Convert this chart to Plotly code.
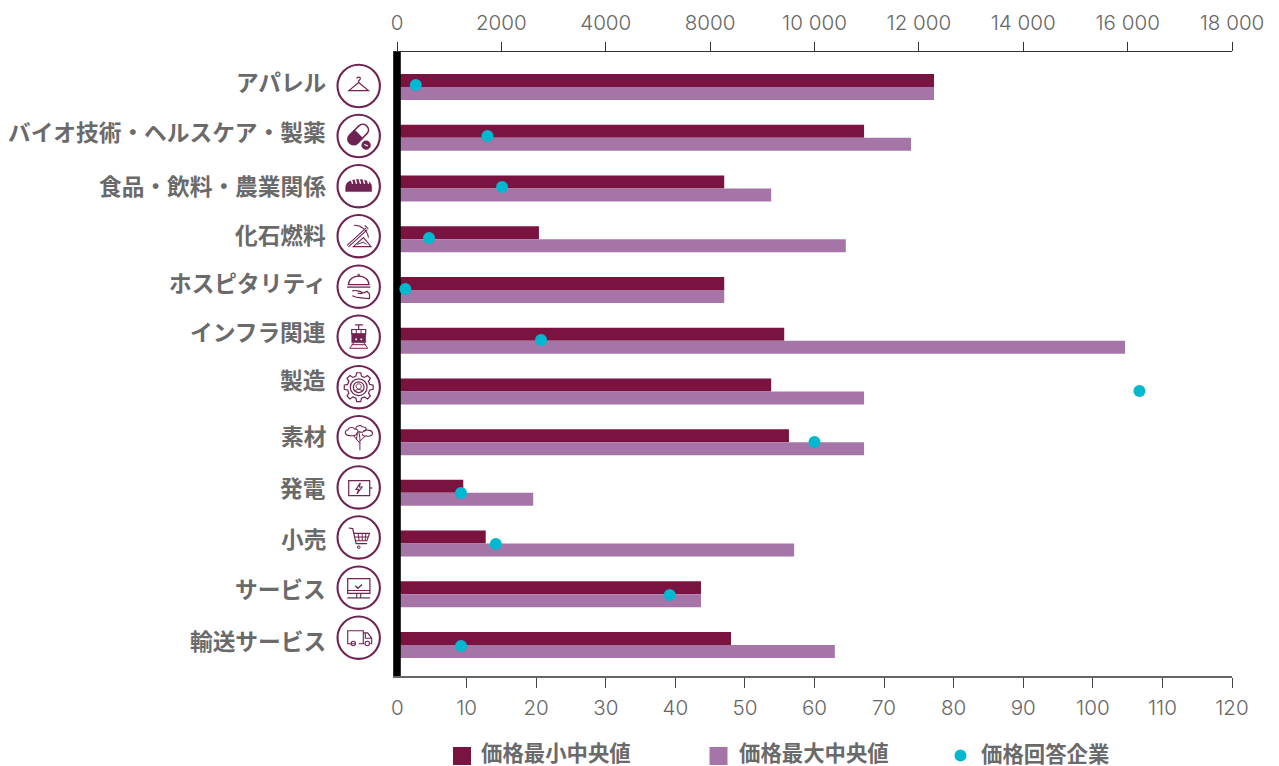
import math
import re
import plotly.graph_objects as go

# ---- data ----
categories = ["アパレル", "バイオ技術・ヘルスケア・製薬", "食品・飲料・農業関係", "化石燃料",
              "ホスピタリティ", "インフラ関連", "製造", "素材", "発電", "小売", "サービス", "輸送サービス"]
price_min = [10290, 8950, 6270, 2720, 6270, 7420, 7170, 7510, 1270, 1700, 5825, 6400]
price_max = [10290, 9850, 7170, 8600, 6270, 13950, 8950, 8950, 2610, 7610, 5825, 8390]
respondents = [2.7, 13.0, 15.1, 4.6, 1.2, 20.7, 106.7, 60.0, 9.2, 14.2, 39.2, 9.2]

price_ticks = [0, 2000, 4000, 6000, 8000, 10000, 12000, 14000, 16000]
price_tick_labels = ["0", "2000", "4000", "8000", "10 000", "12 000", "14 000", "16 000", "18 000"]
count_ticks = [0, 10, 20, 30, 40, 50, 60, 70, 80, 90, 100, 110, 120]
series_names = ["価格最小中央値", "価格最大中央値", "価格回答企業"]

DARK = "#7a1340"
LIGHT = "#a675a8"
CYAN = "#00b9d1"
INK = "#6f2352"
TEXT = "#6a6a6a"
CJK = "Noto Sans CJK JP"

# ---- page geometry ----
W, H = 1279, 766
L, R, T, B = 393, 1232, 52, 676
ZERO = 397  # pixel column of the zero of both value axes


def fx(px):
    return (px - L) / (R - L)


def fy(py):
    return 1 - (py - T) / (B - T)


# ---- icon drawing helpers (local pixels, origin at the badge centre, y downward) ----
def flip(path):
    return re.sub(r"(-?\d+\.?\d*),(-?\d+\.?\d*)",
                  lambda m: f"{float(m.group(1)):.2f},{-float(m.group(2)):.2f}", path)


def ellipse(cx, cy, rx, ry=None):
    ry = rx if ry is None else ry
    k = 0.5523
    return (f"M{cx-rx:.2f},{cy:.2f} "
            f"C{cx-rx:.2f},{cy-k*ry:.2f} {cx-k*rx:.2f},{cy-ry:.2f} {cx:.2f},{cy-ry:.2f} "
            f"C{cx+k*rx:.2f},{cy-ry:.2f} {cx+rx:.2f},{cy-k*ry:.2f} {cx+rx:.2f},{cy:.2f} "
            f"C{cx+rx:.2f},{cy+k*ry:.2f} {cx+k*rx:.2f},{cy+ry:.2f} {cx:.2f},{cy+ry:.2f} "
            f"C{cx-k*rx:.2f},{cy+ry:.2f} {cx-rx:.2f},{cy+k*ry:.2f} {cx-rx:.2f},{cy:.2f} Z")


def gear(r_out, r_in, teeth):
    pts = []
    for i in range(teeth):
        a = 2 * math.pi * i / teeth
        w = math.pi / teeth
        for da, r in ((-w * 0.62, r_in), (-w * 0.36, r_out), (w * 0.36, r_out), (w * 0.62, r_in)):
            pts.append(f"{r*math.cos(a+da):.2f},{r*math.sin(a+da):.2f}")
    return "M" + " L".join(pts) + " Z"


def capsule(half):
    # Capsule along a 45 degree axis, half selects the upper or lower piece
    ax, ay = 0.7071, -0.7071
    nx, ny = 0.7071, 0.7071
    cx, cy = -0.5, -1.5
    length, rad = 6.5, 5.6
    sgn = 1 if half == "upper" else -1

    def pt(u, v):
        return f"{cx+ax*u+nx*v:.2f},{cy+ay*u+ny*v:.2f}"
    return (f"M{pt(0, -rad)} L{pt(sgn*length, -rad)} "
            f"C{pt(sgn*(length+rad*1.33), -rad)} {pt(sgn*(length+rad*1.33), rad)} {pt(sgn*length, rad)} "
            f"L{pt(0, rad)} Z")


apparel = [("M0,-3.5 L9.8,4.6 L-9.8,4.6 Z", None, 1.2),
           ("M0,-3.5 L0,-5.4 C2.2,-6.4 2.2,-8.8 0,-8.8 C-1.2,-8.8 -1.8,-8 -1.8,-7.2", None, 1.2)]
pharma = [(capsule("upper"), "white", 1.6), (capsule("lower"), INK, 1.6),
          (ellipse(7.4, 9.2, 4.4), INK, 0.5), ("M5.6,8.4 L9.2,10", None, 1.1, "white")]
bread = [("M-13,5.4 L-13,1 C-13,-4.6 -7,-6.6 0,-6.6 C7,-6.6 13,-4.6 13,1 L13,5.4 Z", INK, 0.5)]
for bx in (-7.5, -3.5, 0.5, 4.5, 8.5):
    bread.append((f"M{bx},-7 L{bx+1.4},-2.4", None, 1.4, "white"))
fossil = [("M-11.6,9.2 L7.2,-8 M-10.2,10.6 L8.6,-6.6", None, 1.1),
          ("M-4.8,-11 C2,-11.2 8.4,-6.4 9.8,1.4", None, 1.1),
          ("M6,-10.8 L9.6,-7.4", None, 1.1),
          ("M-5.4,10.4 L4.8,1.4 L12.4,10.4 Z", None, 1.1),
          ("M-1.6,8.2 L4.6,6 L8,8.2", None, 1.0)]
hospitality = [("M-10.4,-2 C-10,-8 -5,-10.6 0,-10.6 C5,-10.6 10,-8 10.4,-2 Z", None, 1.2),
               ("M-11.6,0.4 L11.6,0.4", None, 1.3),
               (ellipse(0, -11.6, 1), None, 1.0),
               ("M-6.4,4.2 C-3,3 -1,4.4 1.8,5 C4,5.6 3.6,7.2 1,6.8 L-1,6.4 M2,6.6 C5,6.4 7,5.6 8.4,4.6 "
                "L10.8,7.4 L10.8,12 L5,11.4 C2,11 -2,11.4 -6.4,9", None, 1.2)]
infra = [("M-3.6,-11.8 L4.2,-11.8 M0,-11.8 L0,-7.2", None, 1.2),
         ("M-7,-7.2 L7,-7.2 L7,-2.8 L-7,-2.8 Z", None, 1.2),
         ("M-2.4,-7.2 L-2.4,-2.8 M2.4,-7.2 L2.4,-2.8", None, 1.0),
         ("M-7,-2.8 L7,-2.8 L7,6 L-7,6 Z", INK, 0.5),
         (ellipse(-2.6, 2.6, 1.1), "white", 0.3), (ellipse(2.6, 2.6, 1.1), "white", 0.3),
         ("M-7,8 L7,8 M-5,6 L-9,11.6 L9,11.6 L5,6", None, 1.0)]
manufacturing = [(gear(14.6, 11.4, 8), None, 1.2), (ellipse(0, 0, 8.4), None, 1.2),
                 (ellipse(0, 0, 5.4), None, 1.2), (ellipse(0, -0.8, 2.6), None, 1.0),
                 ("M-3.8,3.8 C-2.4,1.8 2.4,1.8 3.8,3.8", None, 1.0)]
# Acacia canopy drawn as three scalloped outlines over a branching trunk
materials = [("M-9,-1.6 C-14,-1.6 -15,-6.6 -10.8,-7.4 C-10,-10.4 -5,-10.2 -4,-8 "
              "C-1.4,-8.8 0.4,-5.6 -1.6,-4.4 C-1.2,-2.4 -5,-1 -9,-1.6 Z", None, 1.1),
             ("M-3.2,-8.6 C-2.4,-12 2.4,-12.4 4.2,-10.2 C8,-10.4 8.8,-7 5.4,-6 "
              "C4.4,-4.8 1.8,-5 0.2,-5.8", None, 1.1),
             ("M4.8,-6.4 C8.6,-8 14,-6.8 13.8,-3.6 C13.6,-1 9,-0.4 7.8,-1.4 "
              "C5.8,-0.4 3.4,-1.6 3.6,-3.4", None, 1.1),
             ("M1.2,13.2 L1.2,1.4 M1.2,6 L-5.2,-1.6 M1.2,3.8 L6.8,-1.2 M1.2,1.4 L0.2,-5.6 M-2.2,2.4 L-1.4,-4.2",
              None, 1.0)]
power = [("M-10,-6.7 L11,-6.7 L11,8.2 L-10,8.2 Z", None, 1.2), ("M11,0.6 L13.6,0.6", None, 1.2),
         ("M1.6,-4.6 L-2.8,2 L0,2 L-1.8,6.6 L3.4,-0.4 L0.6,-0.4 Z", None, 1.1)]
retail = [("M-10,-9.4 L-6,-8.8 L-2.6,6.2 L8.4,6.2", None, 1.2),
          ("M-5.2,-4 L10.8,-4 L8.2,3.4 L-3.4,3.4", None, 1.1),
          ("M-4.4,-0.4 L9.6,-0.4 M-0.6,-4 L0.4,3.4 M3.4,-4 L3.6,3.4 M7.2,-4 L6.4,3.4", None, 1.0),
          (ellipse(0, 9.8, 1.4), None, 1.0), (ellipse(0, 9.8, 0.3), None, 0.6)]
services = [("M-11,-9 L11.2,-9 L11.2,5.6 L-11,5.6 Z", None, 1.2), ("M-11,2.8 L11.2,2.8", None, 1.0),
            ("M-2,5.6 L-2,10.2 M2,5.6 L2,10.2", None, 1.1), ("M-11.4,10.2 L11.4,10.2", None, 1.2),
            ("M-3.4,-2 L-0.8,0.6 L3.4,-3.2", None, 1.3)]
transport = [("M-3.4,6 L-11,6 L-11,-7 L4.6,-7 L4.6,6 L0,6", None, 1.1),
             ("M4.6,-4.8 L9,-4.8 L13,0.6 L13,6 L11.6,6 M5.6,6 L4.6,6 M6.6,-4.6 L6.6,0.6 L13,0.6", None, 1.1),
             (ellipse(-5.4, 5.8, 2.2), None, 1.1), (ellipse(8.6, 5.8, 2.2), None, 1.1)]
icons = [apparel, pharma, bread, fossil, hospitality, infra, manufacturing, materials,
         power, retail, services, transport]

badge_x = 358.7
badge_y = [86, 136, 186.2, 236.2, 286.7, 336.7, 387.2, 437.2, 487.4, 537.4, 587.7, 637.7]
label_x = 328
label_y = [81.8, 131, 185, 234, 282, 331, 379, 435.5, 487, 538, 588, 640.5]

# ---- traces ----
rows = list(range(len(categories)))
fig = go.Figure()
fig.add_trace(go.Bar(y=rows, x=price_min, orientation="h", name=series_names[0],
                     marker=dict(color=DARK, line_width=0), xaxis="x", yaxis="y"))
fig.add_trace(go.Bar(y=rows, x=price_max, orientation="h", name=series_names[1],
                     marker=dict(color=LIGHT, line_width=0), xaxis="x", yaxis="y"))
# Heavy baseline sits above the bars and under the dots
fig.add_trace(go.Scatter(x=[0, 0], y=[-0.867, 11.63], mode="lines", showlegend=False, hoverinfo="skip",
                         line=dict(color="black", width=7.6), cliponaxis=False, xaxis="x", yaxis="y"))
fig.add_trace(go.Scatter(x=respondents, y=rows, mode="markers", name=series_names[2],
                         marker=dict(color=CYAN, size=12, line_width=0), cliponaxis=False,
                         xaxis="x2", yaxis="y2"))

# ---- badges, category labels, legend ----
shapes, annotations = [], []
for icon, by in zip(icons, badge_y):
    base = dict(xref="paper", yref="paper", xsizemode="pixel", ysizemode="pixel",
                xanchor=fx(badge_x), yanchor=fy(by), layer="above")
    shapes.append(dict(type="circle", x0=-21.2, x1=21.2, y0=-21.2, y1=21.2,
                       line=dict(color=INK, width=2.1), fillcolor="white", **base))
    for part in icon:
        path, fill, width = part[:3]
        colour = part[3] if len(part) > 3 else INK
        shapes.append(dict(type="path", path=flip(path), line=dict(color=colour, width=width),
                           fillcolor=fill if fill else "rgba(0,0,0,0)", **base))

for name, ly in zip(categories, label_y):
    annotations.append(dict(text=name, xref="paper", yref="paper", x=fx(label_x), y=fy(ly),
                            xanchor="right", yanchor="middle", showarrow=False,
                            font=dict(family=CJK, size=22.7, color=TEXT, weight=700)))

legend_family = f"Liberation Sans, {CJK}"
for name, tx in zip(series_names, (478.5, 737, 979)):
    annotations.append(dict(text=name, xref="paper", yref="paper", x=fx(tx), y=fy(754),
                            xanchor="left", yanchor="middle", showarrow=False,
                            font=dict(family=legend_family, size=21.4, color=TEXT, weight=700)))
for x0, colour in ((453, DARK), (709.5, LIGHT)):
    shapes.append(dict(type="rect", xref="paper", yref="paper", x0=fx(x0), x1=fx(x0 + 18),
                       y0=fy(765), y1=fy(747), fillcolor=colour, line_width=0))
shapes.append(dict(type="circle", xref="paper", yref="paper", x0=fx(954.5), x1=fx(966.5),
                   y0=fy(761.5), y1=fy(749.5), fillcolor=CYAN, line_width=0))

# ---- layout ----
tick_font = dict(family="Inter", size=20.6, color="#666666", weight=300)
# The zero of the lower axis carries a label but no tick mark under the baseline
annotations.append(dict(text=str(count_ticks[0]), xref="paper", yref="paper", x=fx(ZERO), y=fy(707),
                        xanchor="center", yanchor="middle", showarrow=False, font=tick_font))
price_low = -(ZERO - L) / (R - ZERO) * price_ticks[-1]
count_low = -(ZERO - L) / (R - ZERO) * count_ticks[-1]
fig.update_layout(
    width=W, height=H, margin=dict(l=L, r=W - R, t=T, b=H - B, pad=0, autoexpand=False),
    paper_bgcolor="white", plot_bgcolor="white", showlegend=False, barmode="group",
    bargap=1 - 26 / 50.73, bargroupgap=0, shapes=shapes, annotations=annotations,
    xaxis=dict(side="top", range=[price_low, price_ticks[-1]], tickmode="array", tickvals=price_ticks,
               ticktext=price_tick_labels, showgrid=False, zeroline=False, showline=True,
               linecolor="#333333", linewidth=1, ticks="outside", ticklen=9, tickcolor="#333333",
               tickwidth=1, tickfont=tick_font, ticklabelstandoff=4, anchor="y"),
    xaxis2=dict(side="bottom", overlaying="x", range=[count_low, count_ticks[-1]], tickmode="array",
                tickvals=count_ticks[1:], showgrid=False, zeroline=False, showline=True,
                linecolor="#666666", linewidth=1.5, ticks="outside", ticklen=10, tickcolor="#444444",
                tickwidth=1, tickfont=tick_font, ticklabelstandoff=3, anchor="y2"),
    yaxis=dict(range=[11.61, -0.69], showgrid=False, zeroline=False, showticklabels=False,
               ticks="", showline=False),
    yaxis2=dict(overlaying="y", range=[11.588, -0.647], showgrid=False, zeroline=False,
                showticklabels=False, ticks="", showline=False),
)

fig.write_html("out.html")
